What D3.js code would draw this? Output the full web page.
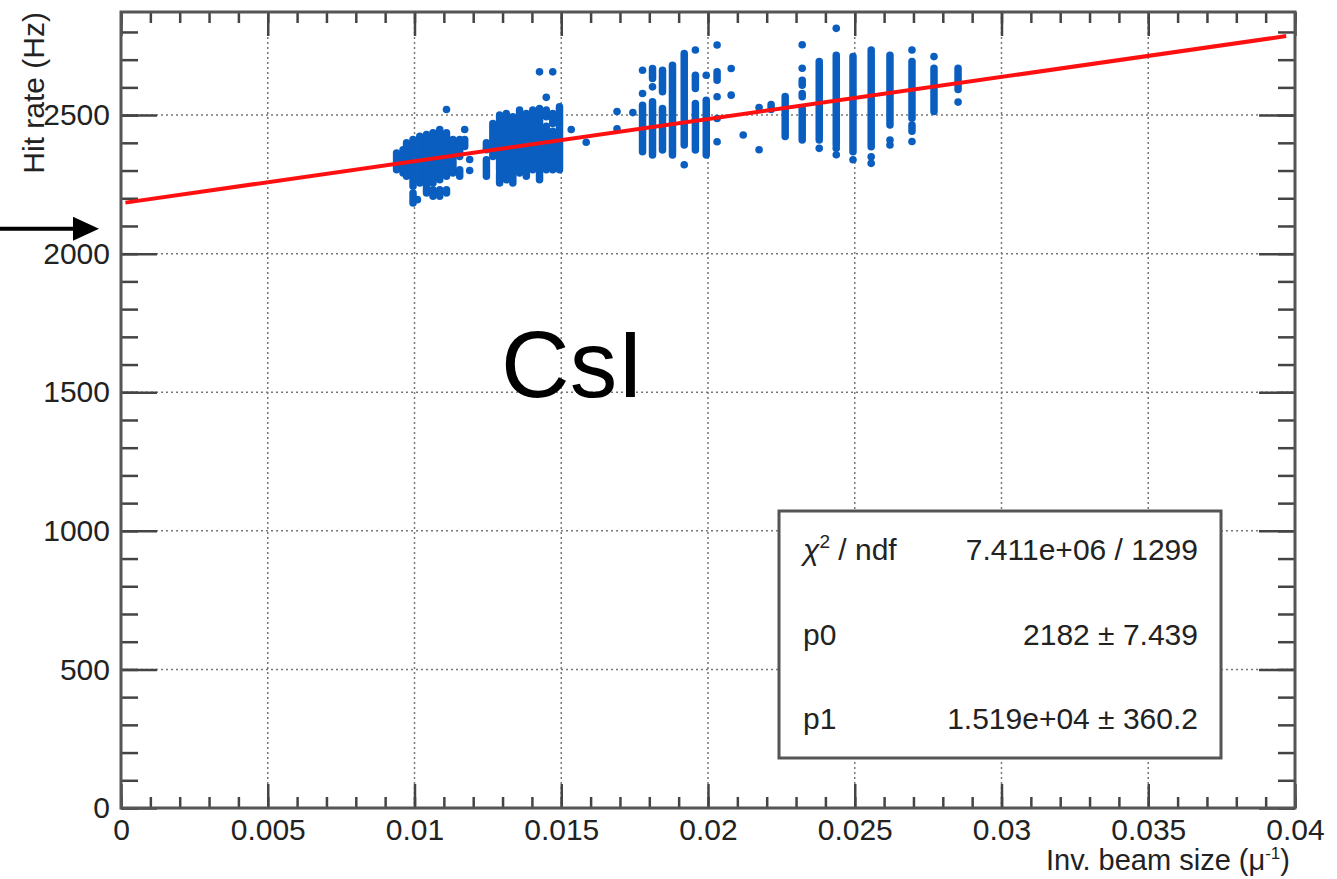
<!DOCTYPE html>
<html>
<head>
<meta charset="utf-8">
<script src="https://cdn.jsdelivr.net/npm/d3@7"></script>
<style>
  body { margin: 0; background: #fff; }
  text { font-family: "Liberation Sans", Arial, Helvetica, sans-serif; fill: #222; }
</style>
</head>
<body>
<div id="chart"></div>
<script>
// axis ticks
const xTicks = [0, 0.005, 0.01, 0.015, 0.02, 0.025, 0.03, 0.035, 0.04];
const xTickLabels = ["0", "0.005", "0.01", "0.015", "0.02", "0.025", "0.03", "0.035", "0.04"];
const yTicks = [0, 500, 1000, 1500, 2000, 2500];
const yTickLabels = ["0", "500", "1000", "1500", "2000", "2500"];

// fit result (pol1)
const fitP0 = 2182;
const fitP1 = 15190;
const statsNames = ["chi2", "p0", "p1"];
const statsValues = ["7.411e+06 / 1299", "2182 \u00b1 7.439", "1.519e+04 \u00b1 360.2"];

// runs where the markers pile up into vertical strips: [x, yLow, yHigh]
const strips = [
    // first blob
    [0.00939, 2303, 2363], [0.00961, 2291, 2375], [0.00973, 2279, 2400],
    [0.00995, 2243, 2412], [0.00995, 2183, 2219], [0.01018, 2255, 2424],
    [0.01041, 2219, 2430], [0.01063, 2255, 2436], [0.01063, 2207, 2231],
    [0.01086, 2267, 2448], [0.01086, 2207, 2231], [0.01109, 2279, 2436],
    [0.01109, 2219, 2231], [0.01131, 2291, 2412], [0.01154, 2351, 2412],
    [0.01154, 2279, 2303], [0.01171, 2387, 2412],
    // second blob
    [0.01245, 2375, 2400], [0.01245, 2279, 2339], [0.01267, 2351, 2470],
    [0.01290, 2303, 2500], [0.01290, 2255, 2291], [0.01313, 2267, 2506],
    [0.01335, 2255, 2494], [0.01358, 2291, 2518], [0.01381, 2279, 2506],
    [0.01403, 2303, 2518], [0.01426, 2267, 2524], [0.01449, 2303, 2460],
    [0.01449, 2494, 2518], [0.01471, 2303, 2442], [0.01471, 2470, 2506],
    [0.01494, 2303, 2530],
    // third group
    [0.01777, 2368, 2536], [0.01811, 2632, 2668], [0.01811, 2356, 2548],
    [0.01845, 2584, 2662], [0.01845, 2374, 2524], [0.01879, 2356, 2680],
    [0.01919, 2392, 2722], [0.01957, 2596, 2644], [0.01957, 2374, 2542],
    [0.01994, 2356, 2554], [0.02031, 2626, 2656],
    // fourth group
    [0.02215, 2520, 2538], [0.02263, 2423, 2567], [0.02321, 2608, 2626],
    [0.02321, 2566, 2578], [0.02321, 2410, 2524], [0.02379, 2410, 2693],
    [0.02437, 2392, 2716], [0.02494, 2368, 2711], [0.02556, 2386, 2735],
    [0.02620, 2464, 2716], [0.02695, 2489, 2693], [0.02695, 2442, 2464],
    [0.02770, 2513, 2669], [0.02852, 2592, 2669]
];

// isolated markers: [x, y]
const points = [
    [0.01109, 2520], [0.01171, 2448], [0.01188, 2300], [0.01188, 2340], [0.01010, 2195],
    [0.01426, 2656], [0.01471, 2656], [0.01449, 2564], [0.01534, 2448], [0.01585, 2402],
    [0.01690, 2513], [0.01690, 2451], [0.01744, 2509], [0.01777, 2662], [0.01777, 2578],
    [0.01811, 2602], [0.01919, 2321], [0.01957, 2735], [0.01994, 2644], [0.02031, 2753],
    [0.02031, 2566], [0.02031, 2488], [0.02031, 2404], [0.02079, 2668], [0.02079, 2572],
    [0.02120, 2428], [0.02174, 2527], [0.02174, 2375],
    [0.02321, 2754], [0.02321, 2669], [0.02379, 2380], [0.02437, 2813], [0.02437, 2380],
    [0.02437, 2357], [0.02494, 2339], [0.02556, 2350], [0.02556, 2326], [0.02620, 2410],
    [0.02620, 2392], [0.02695, 2735], [0.02695, 2405], [0.02770, 2711], [0.02852, 2547]
];

var width = 1337, height = 879;
var plot = { left: 121, right: 1295, top: 12, bottom: 808 };

var svg = d3.select("#chart")
    .append("svg")
    .attr("width", width)
    .attr("height", height);

var x = d3.scaleLinear().domain([0, 0.04]).range([plot.left, plot.right]);
var y = d3.scaleLinear().domain([0, 2872]).range([plot.bottom, plot.top]);

// dotted grid
svg.append("g").selectAll("line")
    .data(xTicks.slice(1, -1))
    .enter().append("line")
    .attr("x1", d => x(d)).attr("x2", d => x(d))
    .attr("y1", plot.top).attr("y2", plot.bottom)
    .attr("stroke", "#777").attr("stroke-width", 1.5)
    .attr("stroke-dasharray", "2,3");

svg.append("g").selectAll("line")
    .data(yTicks.slice(1))
    .enter().append("line")
    .attr("x1", plot.left).attr("x2", plot.right)
    .attr("y1", d => y(d)).attr("y2", d => y(d))
    .attr("stroke", "#777").attr("stroke-width", 1.5)
    .attr("stroke-dasharray", "2,3");

// axes, ticks on all four sides pointing inwards
function styleAxis(g) {
    g.select(".domain").remove();
    g.selectAll(".tick line").attr("stroke", "#444").attr("stroke-width", 2.5);
    g.selectAll(".tick text").attr("font-size", 30).attr("fill", "#222")
        .attr("font-family", "Liberation Sans, Arial, sans-serif");
}

var xMinor = d3.range(0, 41).map(i => i / 1000);
var yMinor = d3.range(0, 29).map(i => i * 100);

svg.append("g").attr("transform", "translate(0," + plot.bottom + ")")
    .call(d3.axisBottom(x).tickValues(xMinor).tickSizeInner(-11).tickSizeOuter(0).tickFormat(""))
    .call(styleAxis);
svg.append("g").attr("transform", "translate(0," + plot.bottom + ")")
    .call(d3.axisBottom(x).tickValues(xTicks).tickSizeInner(-24).tickSizeOuter(0).tickPadding(11)
        .tickFormat((d, i) => xTickLabels[i]))
    .call(styleAxis);
svg.append("g").attr("transform", "translate(0," + plot.top + ")")
    .call(d3.axisTop(x).tickValues(xMinor).tickSizeInner(-11).tickSizeOuter(0).tickFormat(""))
    .call(styleAxis);
svg.append("g").attr("transform", "translate(0," + plot.top + ")")
    .call(d3.axisTop(x).tickValues(xTicks).tickSizeInner(-24).tickSizeOuter(0).tickFormat(""))
    .call(styleAxis);

svg.append("g").attr("transform", "translate(" + plot.left + ",0)")
    .call(d3.axisLeft(y).tickValues(yMinor).tickSizeInner(-17).tickSizeOuter(0).tickFormat(""))
    .call(styleAxis);
svg.append("g").attr("transform", "translate(" + plot.left + ",0)")
    .call(d3.axisLeft(y).tickValues(yTicks).tickSizeInner(-36).tickSizeOuter(0).tickPadding(11)
        .tickFormat((d, i) => yTickLabels[i]))
    .call(styleAxis);
svg.append("g").attr("transform", "translate(" + plot.right + ",0)")
    .call(d3.axisRight(y).tickValues(yMinor).tickSizeInner(-17).tickSizeOuter(0).tickFormat(""))
    .call(styleAxis);
svg.append("g").attr("transform", "translate(" + plot.right + ",0)")
    .call(d3.axisRight(y).tickValues(yTicks).tickSizeInner(-36).tickSizeOuter(0).tickFormat(""))
    .call(styleAxis);

// frame
svg.append("rect")
    .attr("x", plot.left).attr("y", plot.top)
    .attr("width", plot.right - plot.left).attr("height", plot.bottom - plot.top)
    .attr("fill", "none").attr("stroke", "#555").attr("stroke-width", 3);

// markers
var blue = "#0a5ebf";
var mw = 7.5;
svg.append("g").selectAll("rect")
    .data(strips)
    .enter().append("rect")
    .attr("x", d => x(d[0]) - mw / 2)
    .attr("y", d => y(d[2]) - mw / 2)
    .attr("width", mw)
    .attr("height", d => y(d[1]) - y(d[2]) + mw)
    .attr("rx", mw / 2)
    .attr("fill", blue);

svg.append("g").selectAll("circle")
    .data(points)
    .enter().append("circle")
    .attr("cx", d => x(d[0]))
    .attr("cy", d => y(d[1]))
    .attr("r", 3.8)
    .attr("fill", blue);

// fit line
var fitX = [0.00015, 0.0397];
svg.append("line")
    .attr("x1", x(fitX[0])).attr("y1", y(fitP0 + fitP1 * fitX[0]))
    .attr("x2", x(fitX[1])).attr("y2", y(fitP0 + fitP1 * fitX[1]))
    .attr("stroke", "#ff1010").attr("stroke-width", 4);

// axis titles
svg.append("text")
    .attr("x", 1290).attr("y", 870)
    .attr("text-anchor", "end")
    .attr("font-size", 29)
    .html("Inv. beam size (\u03bc<tspan dy='-11' font-size='17'>-1</tspan><tspan dy='11'>)</tspan>");

svg.append("text")
    .attr("transform", "translate(44," + plot.top + ") rotate(-90)")
    .attr("text-anchor", "end")
    .attr("font-size", 30)
    .text("Hit rate (Hz)");

// stats box
var box = { x: 779, y: 511, w: 442, h: 247 };
svg.append("rect")
    .attr("x", box.x).attr("y", box.y)
    .attr("width", box.w).attr("height", box.h)
    .attr("fill", "#fff").attr("stroke", "#555").attr("stroke-width", 3);

var rowY = [560, 645, 729];
statsNames.forEach(function (name, i) {
    var t = svg.append("text")
        .attr("x", 803).attr("y", rowY[i])
        .attr("font-size", 30);
    if (name === "chi2") {
        t.html("<tspan font-style='italic'>\u03c7</tspan><tspan dy='-12' font-size='19'>2</tspan><tspan dy='12'> / ndf</tspan>");
    } else {
        t.text(name);
    }
    svg.append("text")
        .attr("x", 1198).attr("y", rowY[i])
        .attr("text-anchor", "end")
        .attr("font-size", 30)
        .text(statsValues[i]);
});

// annotations
svg.append("text")
    .attr("x", x(0.01295)).attr("y", y(1483))
    .attr("font-size", 95)
    .attr("font-weight", 300)
    .style("fill", "#000")
    .text("CsI");

var arrowY = y(2090);
svg.append("line")
    .attr("x1", 0).attr("y1", arrowY)
    .attr("x2", 76).attr("y2", arrowY)
    .attr("stroke", "#000").attr("stroke-width", 4);
svg.append("path")
    .attr("d", "M73," + (arrowY - 12) + "L99," + arrowY + "L73," + (arrowY + 12) + "Z")
    .attr("fill", "#000");
</script>
</body>
</html>
